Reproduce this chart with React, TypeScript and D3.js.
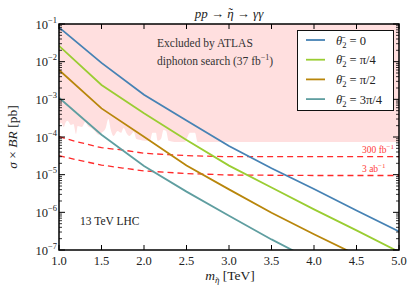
import React from 'react';
import * as d3 from 'd3';

const mass = [1.0, 1.5, 2.0, 2.5, 3.0, 3.5, 4.0, 4.5, 5.0];

// sigma x BR [pb] for each theta2 benchmark
const xsecTheta0 = [8.1e-2, 9.3e-3, 1.32e-3, 2.75e-4, 5.75e-5, 1.48e-5, 4.17e-6, 1.12e-6, 3.09e-7];
const xsecPi4 = [2.63e-2, 2.4e-3, 4.27e-4, 8.32e-5, 1.74e-5, 4.57e-6, 1.2e-6, 3.31e-7, 8.9e-8];
const xsecPi2 = [6.03e-3, 5.75e-4, 1.02e-4, 1.74e-5, 4.07e-6, 9.77e-7, 2.63e-7, 7.4e-8, 2.0e-8];
const xsec3Pi4 = [1.1e-3, 1.15e-4, 1.7e-5, 3.55e-6, 8.13e-7, 1.91e-7, 5.0e-8, 1.4e-8, 4e-9];

// HL-LHC projected reach
const reachMass = [1.0, 1.2, 1.5, 1.75, 2.0, 2.5, 3.0, 4.0, 5.0];
const reach300fb = [1.02e-4, 7.6e-5, 5.2e-5, 4.5e-5, 3.7e-5, 3.2e-5, 3.0e-5, 3.0e-5, 3.0e-5];
const reach3ab = [3.2e-5, 2.5e-5, 1.8e-5, 1.5e-5, 1.26e-5, 1.07e-5, 9.8e-6, 9.5e-6, 9.5e-6];

// ATLAS 37 fb^-1 diphoton limit (jagged)
const exclMass = [1.0, 1.03, 1.055, 1.08, 1.1, 1.14, 1.17, 1.2, 1.22, 1.27, 1.31, 1.34, 1.38, 1.42, 1.47,
  1.5, 1.55, 1.58, 1.61, 1.64, 1.69, 1.73, 1.76, 1.8, 1.83, 1.88, 1.91, 1.95, 2.01, 2.07, 2.1, 2.14,
  2.16, 2.2, 2.23, 2.26, 2.29, 2.36, 2.48, 2.54, 2.6, 2.63, 5.0];
const exclLimit = [2.22e-4, 2.36e-4, 1.85e-4, 2.52e-4, 2.68e-4, 2.09e-4, 2.22e-4, 1.21e-4, 1.97e-4,
  1.85e-4, 2.52e-4, 1.97e-4, 1.74e-4, 1.45e-4, 1.14e-4, 1.29e-4, 1.74e-4, 3.02e-4, 1.54e-4, 1.07e-4,
  1.45e-4, 1.29e-4, 1.74e-4, 1.21e-4, 1.07e-4, 1.36e-4, 8.9e-5, 8.4e-5, 7.9e-5, 7.9e-5, 1.29e-4,
  1.29e-4, 7.9e-5, 8.9e-5, 1.54e-4, 1.45e-4, 7.9e-5, 7.4e-5, 7.4e-5, 1.29e-4, 1.29e-4, 7.4e-5, 7.4e-5];

const seriesNames = ['0', 'π/4', 'π/2', '3π/4'];
const seriesColors = ['#4682b4', '#9acd32', '#b8860b', '#5f9ea0'];
const seriesValues = [xsecTheta0, xsecPi4, xsecPi2, xsec3Pi4];

const xTicks = [1.0, 1.5, 2.0, 2.5, 3.0, 3.5, 4.0, 4.5, 5.0];
const yExponents = [-1, -2, -3, -4, -5, -6, -7];

const FONT = '"Liberation Serif", "DejaVu Serif", serif';

export default function App() {
  const left = 59, right = 399, top = 24, bottom = 250;
  const x = d3.scaleLinear().domain([1, 5]).range([left, right]);
  const y = d3.scaleLog().domain([1e-7, 1e-1]).range([bottom, top]);

  const line = d3.line<[number, number]>()
    .x((d) => x(d[0]))
    .y((d) => y(d[1]));

  const excl = d3.area<[number, number]>()
    .x((d) => x(d[0]))
    .y0(top)
    .y1((d) => y(d[1]))
    .curve(d3.curveMonotoneX);

  const minor: number[] = [];
  for (let e = -7; e < -1; e++) {
    for (let k = 2; k <= 9; k++) minor.push(k * Math.pow(10, e));
  }

  return (
    <svg width={416} height={297} style={{ position: 'absolute', left: 0, top: 0 }} fontFamily={FONT}>
      <rect width={416} height={297} fill="#fff" />
      <defs>
        <clipPath id="plot">
          <rect x={left} y={top} width={right - left} height={bottom - top} />
        </clipPath>
      </defs>

      <g clipPath="url(#plot)">
        <path d={excl(exclMass.map((m, i) => [m, exclLimit[i]]) as [number, number][]) || ''} fill="#ffdfdf" />
        <path d={line(reachMass.map((m, i) => [m, reach300fb[i]]) as [number, number][]) || ''}
          fill="none" stroke="#ff2a2a" strokeWidth={1.3} strokeDasharray="6,4" />
        <path d={line(reachMass.map((m, i) => [m, reach3ab[i]]) as [number, number][]) || ''}
          fill="none" stroke="#ff2a2a" strokeWidth={1.3} strokeDasharray="6,4" />
        {seriesValues.map((vals, i) => (
          <path key={i} d={line(mass.map((m, j) => [m, vals[j]]) as [number, number][]) || ''}
            fill="none" stroke={seriesColors[i]} strokeWidth={1.8} />
        ))}
      </g>

      {/* annotations */}
      <text x={157} y={47} fontSize={11.5} fill="#333">Excluded by ATLAS</text>
      <text x={157} y={65} fontSize={11.5} fill="#333">
        diphoton search (37 fb<tspan dy={-5} fontSize={8}>−1</tspan><tspan dy={5}>)</tspan>
      </text>
      <text x={80} y={225} fontSize={11.5} fill="#222">13 TeV LHC</text>
      <text x={362} y={153} fontSize={9.5} fill="#ff3b3b">
        300 fb<tspan dy={-4} fontSize={7}>−1</tspan>
      </text>
      <text x={362} y={172} fontSize={9.5} fill="#ff3b3b">
        3 ab<tspan dy={-4} fontSize={7}>−1</tspan>
      </text>

      {/* legend */}
      <rect x={297.5} y={30.5} width={96} height={80} fill="#fff" stroke="#111" strokeWidth={1} />
      {seriesNames.map((n, i) => (
        <g key={n} transform={`translate(0,${40 + i * 19.7})`}>
          <line x1={306} x2={325} y1={0} y2={0} stroke={seriesColors[i]} strokeWidth={1.8} />
          <text x={336} y={4.5} fontSize={12.5} fill="#222">
            <tspan fontStyle="italic">θ̄</tspan><tspan dy={3} fontSize={8.5}>2</tspan><tspan dy={-3}> = {n}</tspan>
          </text>
        </g>
      ))}

      {/* frame */}
      <rect x={left} y={top} width={right - left} height={bottom - top} fill="none" stroke="#000" strokeWidth={1.5} />

      {/* x ticks */}
      {xTicks.map((t) => (
        <g key={t}>
          <line x1={x(t)} x2={x(t)} y1={bottom} y2={bottom - 5} stroke="#000" />
          <line x1={x(t)} x2={x(t)} y1={top} y2={top + 5} stroke="#000" />
          <text x={x(t)} y={265} fontSize={12.5} textAnchor="middle" fill="#222">{t.toFixed(1)}</text>
        </g>
      ))}

      {/* y ticks */}
      {yExponents.map((e) => {
        const v = Math.pow(10, e);
        return (
          <g key={e}>
            <line x1={left} x2={left + 6} y1={y(v)} y2={y(v)} stroke="#000" />
            <line x1={right} x2={right - 6} y1={y(v)} y2={y(v)} stroke="#000" />
            <text x={57} y={y(v) + 4.5} fontSize={12.5} textAnchor="end" fill="#222">
              10<tspan dy={-6} fontSize={8.5}>−{-e}</tspan>
            </text>
          </g>
        );
      })}
      {minor.map((v, i) => (
        <g key={i}>
          <line x1={left} x2={left + 3} y1={y(v)} y2={y(v)} stroke="#000" strokeWidth={0.8} />
          <line x1={right} x2={right - 3} y1={y(v)} y2={y(v)} stroke="#000" strokeWidth={0.8} />
        </g>
      ))}

      {/* title */}
      <text x={229} y={18} fontSize={13} textAnchor="middle" fill="#222">
        <tspan fontStyle="italic">pp</tspan> → <tspan fontStyle="italic">η</tspan>
        <tspan dx={-5.2} dy={-1} fontSize={13}>˜</tspan><tspan dx={0.8} dy={1}> → </tspan>
        <tspan fontStyle="italic">γγ</tspan>
      </text>

      {/* axis labels */}
      <text x={230} y={280} fontSize={13.5} textAnchor="middle" fill="#222">
        <tspan fontStyle="italic">m</tspan><tspan dy={3} fontSize={9} fontStyle="italic">η</tspan>
        <tspan dx={-3.6} dy={-0.5} fontSize={9}>˜</tspan><tspan dx={4} dy={-2.5}>[TeV]</tspan>
      </text>
      <text transform="translate(17,137) rotate(-90)" fontSize={13.5} textAnchor="middle" fill="#222">
        <tspan fontStyle="italic">σ</tspan> × <tspan fontStyle="italic">BR</tspan> [pb]
      </text>
    </svg>
  );
}
